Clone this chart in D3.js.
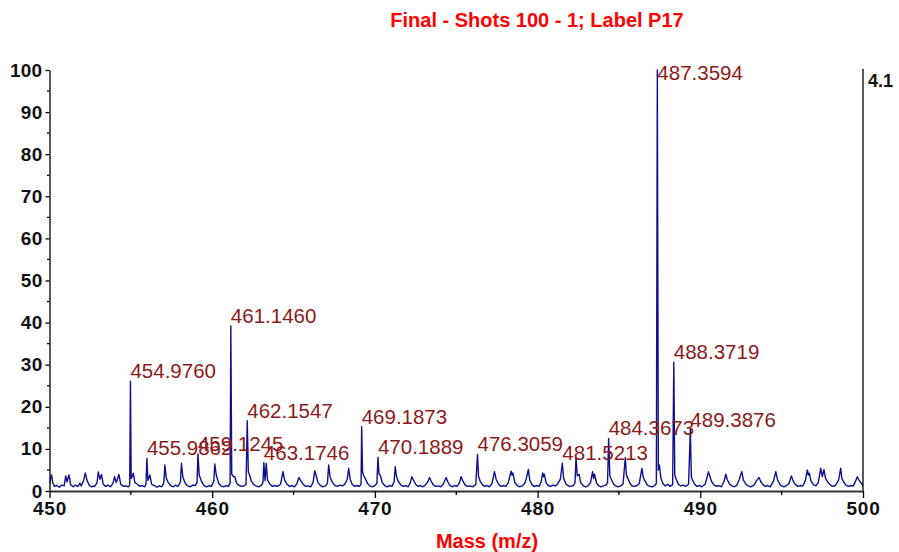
<!DOCTYPE html>
<html><head><meta charset="utf-8">
<script src="https://cdn.jsdelivr.net/npm/d3@7"></script>
<style>body{margin:0;background:#fff}svg{display:block}</style>
</head><body>
<svg id="c" width="899" height="552"></svg>
<script>
const title = "Final - Shots 100 - 1; Label P17";
const xTitle = "Mass (m/z)";
const rightLabel = "4.1";
const xTicks = [450, 460, 470, 480, 490, 500];
const yTicks = [0, 10, 20, 30, 40, 50, 60, 70, 80, 90, 100];

// labelled peaks
const peakMasses = [454.9760, 455.9862, 459.1245, 461.1460, 462.1547, 463.1746, 469.1873, 470.1889, 476.3059, 481.5213, 484.3673, 487.3594, 488.3719, 489.3876];
const peakHeights = [26.1, 7.8, 8.8, 39.2, 16.7, 6.7, 15.3, 8.0, 8.7, 6.6, 12.5, 100, 30.6, 14.6];

// profile spectrum: masses and intensities
const profMass = [450.00,450.05,450.13,450.2,450.3,450.45,450.6,450.75,450.9,451.0,451.08,451.2,451.3,451.45,451.6,451.75,451.87,451.95,452.1,452.2,452.3,452.45,452.6,452.8,452.92,453.0,453.1,453.2,453.3,453.45,453.6,453.75,453.9,454.0,454.1,454.27,454.38,454.55,454.7,454.85,454.93,454.976,455.02,455.1,455.15,455.25,455.4,455.55,455.7,455.85,455.93,455.986,456.05,456.17,456.28,456.45,456.6,456.75,456.9,457.03,457.09,457.18,457.3,457.45,457.6,457.75,457.9,458.05,458.11,458.2,458.35,458.5,458.65,458.8,458.95,459.07,459.1245,459.2,459.35,459.5,459.65,459.8,459.95,460.1,460.16,460.25,460.4,460.55,460.7,460.85,461.0,461.1,461.146,461.2,461.3,461.39,461.5,461.65,461.8,461.95,462.08,462.155,462.22,462.3,462.4,462.55,462.7,462.85,463.0,463.12,463.175,463.25,463.32,463.4,463.55,463.7,463.85,464.0,464.2,464.35,464.45,464.6,464.75,464.9,465.05,465.2,465.33,465.45,465.6,465.75,465.9,466.05,466.2,466.3,466.38,466.5,466.65,466.8,466.95,467.08,467.16,467.25,467.4,467.55,467.7,467.85,468.0,468.15,468.3,468.39,468.48,468.6,468.75,468.9,469.05,469.15,469.187,469.24,469.3,469.4,469.55,469.7,469.85,470.0,470.12,470.189,470.25,470.33,470.45,470.6,470.75,470.9,471.05,471.18,471.25,471.33,471.45,471.6,471.75,471.9,472.05,472.18,472.27,472.37,472.5,472.65,472.8,472.95,473.1,473.25,473.36,473.46,473.6,473.75,473.9,474.05,474.2,474.38,474.48,474.6,474.75,474.9,475.05,475.2,475.3,475.4,475.55,475.7,475.85,476.0,476.2,476.306,476.37,476.48,476.6,476.75,476.9,477.05,477.2,477.35,477.45,477.6,477.75,477.9,478.05,478.2,478.37,478.43,478.48,478.6,478.75,478.9,479.05,479.2,479.3,479.43,479.52,479.65,479.8,479.95,480.1,480.22,480.31,480.36,480.41,480.52,480.65,480.8,480.95,481.1,481.25,481.4,481.52,481.6,481.75,481.9,482.05,482.2,482.3,482.36,482.44,482.55,482.65,482.8,482.95,483.1,483.25,483.38,483.44,483.5,483.62,483.75,483.9,484.05,484.2,484.3,484.367,484.44,484.55,484.68,484.8,484.95,485.1,485.25,485.39,485.46,485.55,485.68,485.8,485.95,486.1,486.25,486.41,486.5,486.6,486.75,486.9,487.05,487.2,487.3,487.359,487.42,487.48,487.58,487.7,487.85,488.0,488.15,488.3,488.372,488.43,488.52,488.65,488.8,488.95,489.1,489.28,489.388,489.45,489.52,489.65,489.8,489.95,490.1,490.3,490.45,490.5,490.58,490.7,490.85,491.0,491.15,491.3,491.45,491.57,491.65,491.8,491.95,492.1,492.25,492.4,492.55,492.65,492.8,492.95,493.1,493.3,493.45,493.61,493.72,493.85,494.0,494.15,494.3,494.5,494.64,494.74,494.88,495.0,495.15,495.3,495.45,495.6,495.7,495.85,496.0,496.15,496.3,496.45,496.58,496.64,496.7,496.8,496.95,497.1,497.25,497.4,497.5,497.6,497.7,497.85,498.0,498.15,498.3,498.5,498.63,498.7,498.8,498.95,499.1,499.25,499.4,499.55,499.65,499.75,499.87,500.0];
const profInt = [1.5,2.8,3.8,2.0,1.1,1.3,0.9,1.4,1.2,3.6,2.2,3.8,1.5,1.0,1.4,1.1,1.9,1.2,2.5,4.3,2.6,1.3,1.0,1.2,2.0,4.5,2.8,3.9,1.6,1.1,1.4,1.0,1.8,3.4,2.0,3.9,1.6,1.1,1.2,1.0,1.4,26.1,3.0,3.6,4.2,2.0,1.6,1.1,1.3,1.0,1.6,7.8,2.5,3.8,1.6,1.3,0.9,1.2,1.0,2.0,6.2,3.0,2.0,1.3,1.0,1.4,1.1,2.2,6.6,3.2,1.8,1.2,1.0,1.4,1.3,2.0,8.8,3.8,2.2,1.3,1.0,1.3,1.1,2.3,6.4,3.8,1.8,1.2,1.0,1.3,1.1,1.8,39.2,4.0,3.4,3.4,1.9,1.3,1.1,1.2,1.6,16.7,4.5,3.8,2.4,1.5,1.2,1.0,1.3,2.0,6.7,2.5,6.6,2.6,1.6,1.1,1.3,1.1,1.6,4.6,2.6,1.6,1.1,1.3,1.0,1.7,3.2,2.4,1.5,1.1,1.2,1.0,2.0,4.8,3.8,2.0,1.3,1.0,1.2,1.8,6.2,3.2,2.0,1.3,1.1,1.4,1.2,1.6,2.8,5.4,2.8,1.6,1.1,1.3,1.1,1.6,15.3,4.5,3.8,3.0,1.8,1.2,1.0,1.3,1.8,8.0,4.0,3.8,2.0,1.3,1.0,1.3,1.1,2.2,5.8,3.4,2.2,1.4,1.1,1.3,1.0,2.0,3.4,2.6,1.6,1.1,1.3,1.0,1.4,2.2,3.2,2.3,1.4,1.1,1.2,1.0,1.6,3.2,2.2,1.4,1.0,1.3,1.1,2.0,3.4,2.4,1.4,1.1,1.2,1.0,1.5,8.7,3.5,2.2,1.5,1.1,1.3,1.0,1.8,4.6,2.8,1.6,1.1,1.3,1.1,2.0,4.7,3.8,4.3,2.0,1.3,1.0,1.2,1.8,2.8,5.1,2.6,1.5,1.1,1.3,1.1,2.2,4.3,3.4,4.0,2.0,1.3,1.1,1.4,1.2,1.8,2.8,6.6,3.0,1.6,1.2,1.1,1.3,2.0,7.8,3.6,4.0,2.0,1.3,1.0,1.2,2.0,4.6,3.0,4.0,1.9,1.3,1.0,1.2,1.4,2.0,12.5,3.6,2.6,1.6,1.2,1.0,1.2,1.6,7.9,3.8,3.0,1.8,1.2,1.1,1.3,1.8,5.4,3.2,2.4,1.4,1.1,1.0,1.3,1.8,100,5.0,6.2,3.0,1.8,1.2,1.6,1.1,1.5,30.6,3.8,2.8,1.6,1.2,1.4,1.1,1.6,14.6,3.4,2.6,1.6,1.1,1.3,1.0,1.6,3.8,4.6,3.6,2.2,1.4,1.1,1.3,1.0,2.2,4.0,2.8,1.6,1.2,1.0,1.4,2.8,4.6,2.6,1.6,1.2,1.0,1.4,2.4,3.2,2.2,1.5,1.1,1.3,1.0,2.4,4.6,2.8,1.6,1.2,1.0,1.3,1.8,3.6,2.4,1.5,1.1,1.3,1.2,2.4,5.0,3.8,4.2,2.4,1.5,1.2,2.0,5.4,3.4,5.1,3.0,2.0,1.4,1.1,1.3,2.6,5.4,3.0,2.2,1.4,1.1,1.3,1.2,2.4,3.4,2.6,2.0,1.2];

const svg = d3.select("#c");
const W = 899, H = 552;
const m = {left: 49.5, right: 899 - 863, top: 70, bottom: 552 - 491};
const x = d3.scaleLinear().domain([450, 500]).range([m.left, W - m.right]);
const y = d3.scaleLinear().domain([0, 100]).range([H - m.bottom, m.top]);

const FONT = "'Liberation Sans', Arial, Helvetica, sans-serif";

// title
svg.append("text").attr("x", 537).attr("y", 27).attr("text-anchor", "middle")
  .attr("font-family", FONT).attr("font-weight", "bold").attr("font-size", 20)
  .attr("fill", "#ff0000").text(title);

// x title
svg.append("text").attr("x", 487).attr("y", 548).attr("text-anchor", "middle")
  .attr("font-family", FONT).attr("font-weight", "bold").attr("font-size", 20)
  .attr("fill", "#ff0000").text(xTitle);

// spectrum line
const pts = profMass.map((d, i) => [d, profInt[i]]);
svg.append("defs").append("clipPath").attr("id", "clip").append("rect")
  .attr("x", x(450)).attr("y", 0).attr("width", x(500) - x(450)).attr("height", y(0) + 1);
svg.append("path").datum(pts)
  .attr("clip-path", "url(#clip)")
  .attr("fill", "none").attr("stroke", "#0f0f8f").attr("stroke-width", 1.4)
  .attr("stroke-linejoin", "round")
  .attr("d", d3.line().x(d => x(d[0])).y(d => y(d[1])));

// y axis (left)
const yAxis = d3.axisLeft(y).tickValues(yTicks).tickSize(4).tickSizeOuter(0).tickPadding(3).tickFormat(d3.format("d"));
const gy = svg.append("g").attr("transform", `translate(${x(450)},0)`).call(yAxis);
gy.select(".domain").attr("stroke", "#000").attr("stroke-width", 1.3);
gy.selectAll(".tick line").attr("stroke", "#000").attr("stroke-width", 1.3);
gy.selectAll(".tick text").attr("font-family", FONT).attr("font-weight", "bold")
  .attr("font-size", 19).attr("fill", "#111").attr("letter-spacing", 0.3);
// y minor ticks
const yMinor = d3.range(5, 100, 10);
svg.append("g").selectAll("line").data(yMinor).join("line")
  .attr("x1", x(450) - 2.5).attr("x2", x(450)).attr("y1", d => y(d)).attr("y2", d => y(d))
  .attr("stroke", "#000").attr("stroke-width", 1.3);

// right axis line
svg.append("line").attr("x1", x(500)).attr("x2", x(500)).attr("y1", y(100) - 1).attr("y2", y(0))
  .attr("stroke", "#000").attr("stroke-width", 1.3);
svg.append("text").attr("x", x(500) + 5).attr("y", 87)
  .attr("font-family", FONT).attr("font-weight", "bold").attr("font-size", 18)
  .attr("fill", "#111").text(rightLabel);

// x axis
const xAxis = d3.axisBottom(x).tickValues(xTicks).tickSize(7).tickSizeOuter(0).tickPadding(4).tickFormat(d3.format("d"));
const gx = svg.append("g").attr("transform", `translate(0,${y(0)})`).call(xAxis);
gx.select(".domain").attr("stroke", "#333").attr("stroke-width", 2.2);
gx.selectAll(".tick line").attr("stroke", "#000").attr("stroke-width", 1.3);
gx.selectAll(".tick text").attr("font-family", FONT).attr("font-weight", "bold")
  .attr("font-size", 19).attr("fill", "#111").attr("letter-spacing", 0.8);
const xMinor = d3.range(455, 500, 10);
svg.append("g").selectAll("line").data(xMinor).join("line")
  .attr("x1", d => x(d)).attr("x2", d => x(d)).attr("y1", y(0)).attr("y2", y(0) + 4)
  .attr("stroke", "#000").attr("stroke-width", 1.3);

// peak labels
svg.append("g").selectAll("text").data(peakMasses.map((d, i) => [d, peakHeights[i]])).join("text")
  .attr("x", d => x(d[0]))
  .attr("y", d => Math.max(y(d[1]) - 3, y(100) + 10))
  .attr("font-family", FONT).attr("font-size", 20.5).attr("fill", "#8b1a1a")
  .text(d => d[0].toFixed(4));
</script>
</body></html>
